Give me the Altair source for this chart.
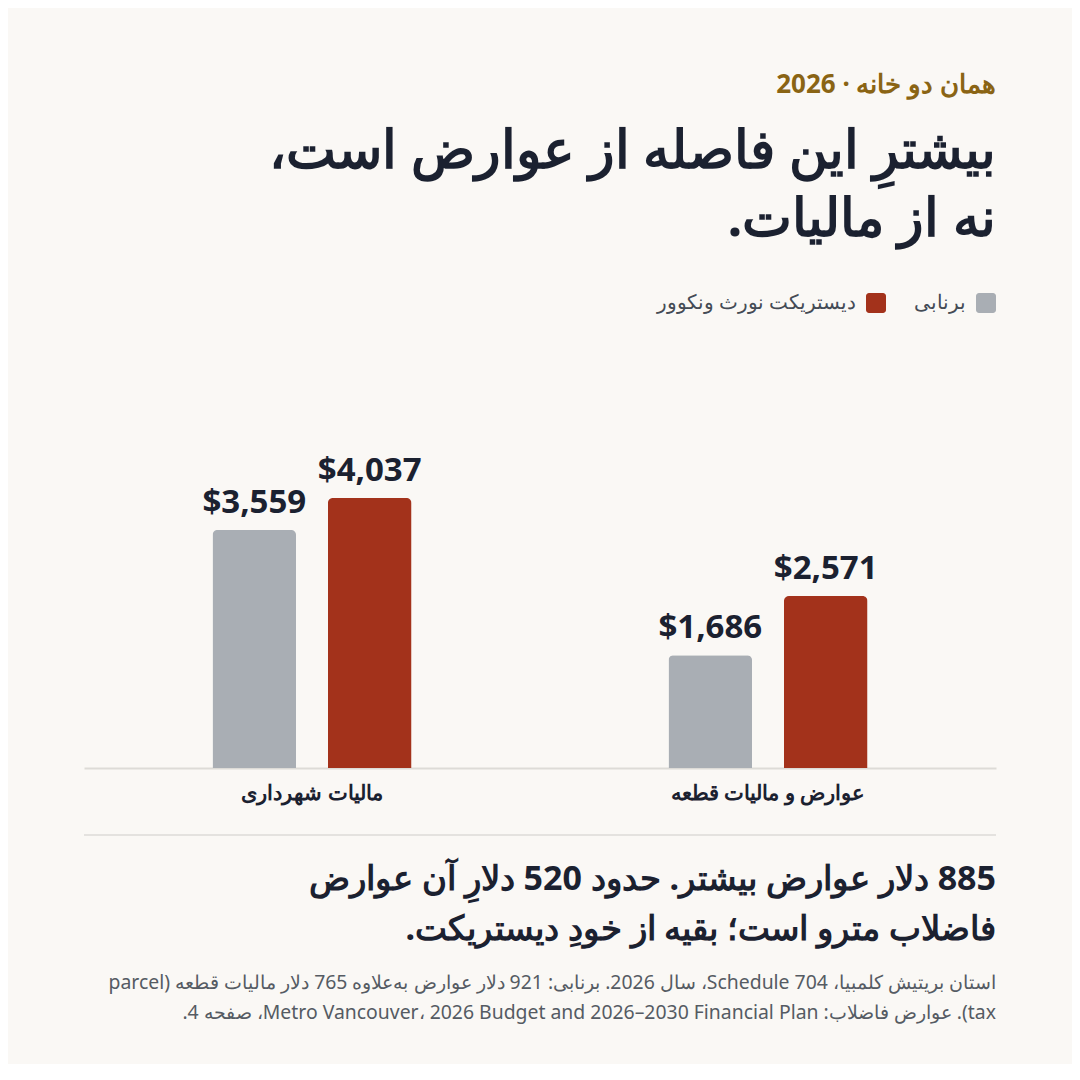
import altair as alt
import pandas as pd

# data
categories = ["مالیات شهرداری", "عوارض و مالیات قطعه"]
series = ["برنابی", "دیستریکت نورث ونکوور"]
burnaby = [3559, 1686]
north_van = [4037, 2571]

kicker = "همان دو خانه · 2026"
title_lines = ["بیشترِ این فاصله از عوارض است،", "نه از مالیات."]
note_lines = ["885 دلار عوارض بیشتر. حدود 520 دلارِ آن عوارض",
              "فاضلاب مترو است؛ بقیه از خودِ دیستریکت."]
source_lines = ["استان بریتیش کلمبیا، Schedule 704، سال 2026. برنابی: 921 دلار عوارض به‌علاوه 765 دلار مالیات قطعه (parcel",
                "tax). عوارض فاضلاب: Metro Vancouver، 2026 Budget and 2026–2030 Financial Plan، صفحه 4."]

colors = ["#a9aeb4", "#a3321b"]
ink = "#1b2130"
font = "Noto Sans"


def rtl(s):
    # force right-to-left embedding so the bidi order matches
    return "\u202b" + s + "\u202c"


rows = []
for i, c in enumerate(categories):
    rows.append({"cat": c, "series": series[0], "value": burnaby[i]})
    rows.append({"cat": c, "series": series[1], "value": north_van[i]})
df = pd.DataFrame(rows)

W, H = 912, 450

x = alt.X("cat:N", sort=categories, title=None,
          scale=alt.Scale(paddingInner=0.5636, paddingOuter=0.2818),
          axis=alt.Axis(labelAngle=0, labelFont=font, labelFontSize=21,
                        labelFontWeight="bold", labelColor=ink, labelLimit=0,
                        labelPadding=14, ticks=False, domainColor="#dddbd7",
                        domainWidth=2))
xo = alt.XOffset("series:N", sort=series,
                 scale=alt.Scale(paddingInner=0.276, paddingOuter=0))
y = alt.Y("value:Q", scale=alt.Scale(domain=[0, 6727]), axis=None)

base = alt.Chart(df).encode(x=x, xOffset=xo, y=y)

bars = base.mark_bar(cornerRadiusTopLeft=5, cornerRadiusTopRight=5).encode(
    color=alt.Color("series:N", sort=series,
                    scale=alt.Scale(domain=series, range=colors), legend=None)
)

labels = base.mark_text(baseline="bottom", dy=-10, font=font, fontSize=33,
                        fontWeight="bold", color=ink).encode(
    text=alt.Text("value:Q", format="$,d")
)


def txt(lines, ypos, size, color, weight="bold", xpos=W, lh=None):
    if isinstance(lines, list):
        val = [rtl(s) for s in lines]
    else:
        val = rtl(lines)
    mk = dict(align="right", baseline="middle", font=font,
              fontSize=size, fontWeight=weight, color=color)
    if lh:
        mk["lineHeight"] = lh
    return alt.Chart(df.head(1)).mark_text(**mk).encode(
        x=alt.value(xpos), y=alt.value(ypos), text=alt.value(val))


head = txt(kicker, -233, 26, "#8a6414")
title = txt(title_lines, -166, 53, ink, lh=68)
leg_sq = alt.Chart(pd.DataFrame({"series": series, "x0": [892, 782]})).mark_rect(
    cornerRadius=3).encode(
    x=alt.X("x0:Q", scale=None), x2=alt.X2("x1:Q"), y=alt.value(-25),
    y2=alt.value(-5),
    color=alt.Color("series:N", scale=alt.Scale(domain=series, range=colors),
                    legend=None)
).transform_calculate(x1="datum.x0 + 20")
leg1 = txt(series[0], -15, 20, "#444b55", weight="normal", xpos=882)
leg2 = txt(series[1], -15, 20, "#444b55", weight="normal", xpos=772)
sep = alt.Chart(df.head(1)).mark_rule(color="#dddbd7", strokeWidth=1.5).encode(
    x=alt.value(0), x2=alt.value(W), y=alt.value(517))
note = txt(note_lines, 562, 34, ink, lh=50)
src = txt(source_lines, 665, 19.4, "#555b63", weight="normal", lh=30)

chart = alt.layer(bars, labels, head, title, leg_sq, leg1, leg2, sep, note,
                  src).properties(
    width=W, height=H,
    autosize=alt.AutoSizeParams(type="none"),
    padding={"left": 76, "top": 310, "right": 76, "bottom": 296},
    background="#faf8f5"
).configure_view(stroke=None)

chart.save("out.html", embed_options={"renderer": "svg", "actions": False})
